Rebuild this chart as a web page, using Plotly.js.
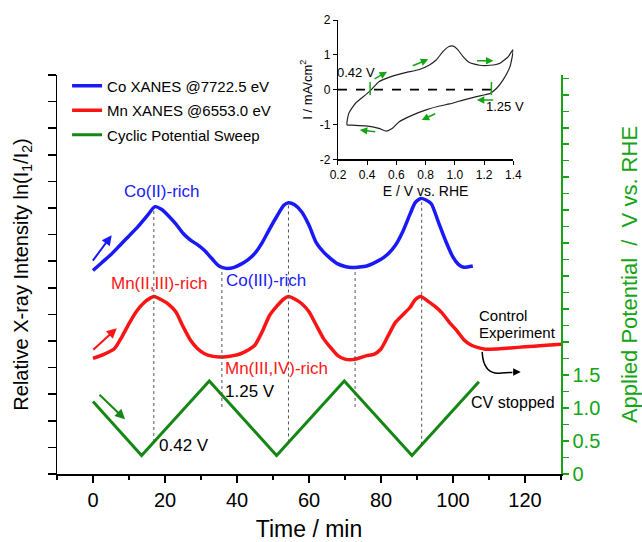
<!DOCTYPE html>
<html>
<head>
<meta charset="utf-8">
<script src="https://cdn.plot.ly/plotly-3.0.1.min.js"></script>
<style>html,body{margin:0;padding:0;background:#fff;}</style>
</head>
<body>
<div id="chart" style="width:642px;height:542px;"></div>
<script>
// ---- Data ----
const coTime = [0, 2.5, 5, 7.5, 10, 12.5, 15, 17.2, 19, 21, 23, 25, 27, 29, 31, 33, 35, 37, 39, 41, 43, 45, 47, 49, 51, 53, 54.3, 56, 58, 60, 62, 64, 66, 68, 70, 72, 74, 76, 78, 80, 82, 84, 86, 88, 89.5, 91, 92.5, 94, 96, 98, 100, 101.5, 103, 105.5];
const coSignal = [7.65, 7.95, 8.25, 8.6, 8.95, 9.3, 9.7, 10.05, 9.95, 9.7, 9.4, 9.05, 8.8, 8.62, 8.4, 8.1, 7.82, 7.73, 7.76, 7.88, 8.05, 8.3, 8.7, 9.2, 9.67, 10.1, 10.2, 10.12, 9.85, 9.35, 8.7, 8.35, 8.1, 7.9, 7.8, 7.76, 7.78, 7.82, 7.93, 8.07, 8.28, 8.6, 9.1, 9.75, 10.2, 10.36, 10.3, 10.15, 9.45, 8.75, 8.15, 7.88, 7.77, 7.82];

const mnTime = [0, 3, 6, 8, 10, 12, 14, 16, 17, 19, 21, 23, 25, 27, 29, 31, 33, 35, 37, 39, 41, 43, 45, 47, 49, 51, 53, 54.3, 56, 58, 60, 62, 64, 66, 68, 70, 72, 74, 76, 78, 80, 82, 84, 86, 88, 89.5, 91, 93, 95, 97, 99, 101, 103, 105, 107, 109, 112, 116, 120, 125, 130];
const mnSignal = [4.35, 4.5, 4.72, 5.15, 5.65, 6.1, 6.42, 6.62, 6.67, 6.55, 6.38, 6.1, 5.55, 5.05, 4.72, 4.52, 4.43, 4.4, 4.41, 4.45, 4.52, 4.65, 4.85, 5.35, 5.95, 6.3, 6.58, 6.67, 6.58, 6.4, 6.1, 5.6, 5.1, 4.75, 4.45, 4.32, 4.3, 4.36, 4.45, 4.5, 4.7, 5.2, 5.7, 5.98, 6.25, 6.55, 6.67, 6.5, 6.3, 6.05, 5.7, 5.4, 5.05, 4.85, 4.75, 4.69, 4.7, 4.74, 4.78, 4.83, 4.88];

const potTime = [0, 13.5, 32.3, 51.0, 69.8, 88.6, 107.2];
const potValue = [1.10, 0.28, 1.41, 0.28, 1.41, 0.28, 1.40];

const cvE = [0.262, 0.274, 0.32, 0.389, 0.43, 0.48, 0.573, 0.665, 0.757, 0.826, 0.872, 0.918, 0.96, 0.99, 1.02, 1.056, 1.10, 1.17, 1.24, 1.309, 1.366, 1.40,
             1.377, 1.33, 1.286, 1.24, 1.148, 1.056, 0.964, 0.895, 0.803, 0.71, 0.619, 0.573, 0.531, 0.48, 0.389, 0.297, 0.262];
const cvI = [-1.01, -0.68, -0.39, -0.15, 0.01, 0.23, 0.39, 0.49, 0.58, 0.71, 0.85, 1.09, 1.24, 1.25, 1.15, 0.95, 0.78, 0.70, 0.70, 0.76, 0.95, 1.16,
             0.66, 0.28, 0.04, -0.11, -0.20, -0.30, -0.41, -0.47, -0.58, -0.73, -0.92, -1.11, -1.19, -1.11, -1.04, -1.02, -1.01];

const timeTicks = [0, 20, 40, 60, 80, 100, 120];
const potTickVals = [];
const potTickText = [];
for (let i = 0; i <= 24; i++) {
  const v = i * 0.25;
  potTickVals.push(v);
  potTickText.push(v === 0 ? '0' : (i <= 6 && i % 2 === 0 ? v.toFixed(1) : ''));
}
const cvTicksE = [0.2, 0.4, 0.6, 0.8, 1.0, 1.2, 1.4];
const cvTicksI = [-2, -1, 0, 1, 2];
const cvTickText = ['-2', '-1', '0', '1', '2'];

const guidePeakTimes = [16.9, 54.3, 91.3];
const guideValleyTimes = [35.8, 72.8];

// ---- helpers ----
function interp(xs, ys, x) {
  for (let i = 0; i < xs.length - 1; i++) {
    if (x >= xs[i] && x <= xs[i + 1]) {
      const f = (x - xs[i]) / (xs[i + 1] - xs[i]);
      return ys[i] + f * (ys[i + 1] - ys[i]);
    }
  }
  return ys[ys.length - 1];
}
const LEFT_MAX = 15, RIGHT_MAX = 6.05;
const toLeft = v => v * LEFT_MAX / RIGHT_MAX;

const BLUE = 'rgb(25,25,250)';
const RED = 'rgb(250,20,20)';
const GREEN = 'rgb(20,135,20)';
const AXGREEN = 'rgb(20,165,20)';
const FONT = 'Arial, "Liberation Sans", Helvetica, sans-serif';

const traces = [
  {x: coTime, y: coSignal, type: 'scatter', mode: 'lines', name: 'Co XANES @7722.5 eV',
   line: {color: BLUE, width: 3.5, shape: 'spline', smoothing: 0.6}, xaxis: 'x', yaxis: 'y', legendgroup: 'a'},
  {x: mnTime, y: mnSignal, type: 'scatter', mode: 'lines', name: 'Mn XANES @6553.0 eV',
   line: {color: RED, width: 3.5, shape: 'spline', smoothing: 0.6}, xaxis: 'x', yaxis: 'y', legendgroup: 'b'},
  {x: potTime, y: potValue, type: 'scatter', mode: 'lines', name: 'Cyclic Potential Sweep',
   line: {color: GREEN, width: 3}, xaxis: 'x', yaxis: 'y2', legendgroup: 'c'},
  {x: cvE, y: cvI, type: 'scatter', mode: 'lines', showlegend: false,
   line: {color: '#222', width: 1.2, shape: 'spline', smoothing: 0.5}, xaxis: 'x2', yaxis: 'y3'}
];

const shapes = [];
guidePeakTimes.forEach(t => {
  shapes.push({type: 'line', xref: 'x', yref: 'y', x0: t, x1: t,
    y0: toLeft(interp(potTime, potValue, t)), y1: interp(coTime, coSignal, t),
    line: {color: '#555', width: 1, dash: 'dot'}});
});
guideValleyTimes.forEach(t => {
  shapes.push({type: 'line', xref: 'x', yref: 'y', x0: t, x1: t,
    y0: 2.52, y1: interp(coTime, coSignal, t),
    line: {color: '#555', width: 1, dash: 'dot'}});
});
// inset zero line and potential markers
shapes.push({type: 'line', xref: 'x2', yref: 'y3', x0: 0.2, x1: 1.26, y0: 0, y1: 0,
  line: {color: '#000', width: 1.8, dash: 'dash'}});
[0.42, 1.25].forEach(e => {
  shapes.push({type: 'line', xref: 'x2', yref: 'y3', x0: e, x1: e, y0: -0.15, y1: 0.22,
    line: {color: AXGREEN, width: 1.5}});
});
// curved "CV stopped" arrow
shapes.push({type: 'path', xref: 'x', yref: 'y',
  path: 'M 108.1,4.59 Q 108.4,3.7 113.5,3.8 L 116.5,3.82',
  line: {color: '#000', width: 1.5}});

function txt(text, x, y, color, size, opts) {
  return Object.assign({text: text, x: x, y: y, xref: 'x', yref: 'y', showarrow: false,
    font: {color: color, size: size, family: FONT}}, opts || {});
}
function arrow(x, y, ax, ay, color, width, xref, yref) {
  return {text: '', x: x, y: y, ax: ax, ay: ay, xref: xref || 'x', yref: yref || 'y',
    showarrow: true, arrowhead: 2, arrowsize: 1, arrowwidth: width, arrowcolor: color};
}

const annotations = [
  txt('Co(II)-rich', 19.1, 10.62, BLUE, 17),
  txt('Co(III)-rich', 48.0, 7.29, BLUE, 17),
  txt('Mn(II,III)-rich', 18.3, 7.17, RED, 17),
  txt('Mn(III,IV)-rich', 51.0, 3.98, RED, 17),
  txt('1.25 V', 43.5, 3.09, '#000', 17),
  txt('0.42 V', 25.4, 1.09, '#000', 17),
  txt('Control', 106.6, 5.94, '#000', 15, {xanchor: 'left'}),
  txt('Experiment', 106.6, 5.31, '#000', 15, {xanchor: 'left'}),
  txt('CV stopped', 128.9, 2.67, '#000', 16, {xanchor: 'right'}),
  arrow(5.2, 8.98, -20, 27, BLUE, 2),
  arrow(6.6, 5.48, -25, 23, RED, 2),
  arrow(8.9, 0.83, -27, -26, GREEN, 2, 'x', 'y2'),
  arrow(118.8, 3.83, -9, 0, '#000', 1.5),
  // inset
  {text: '0.42 V', x: 0.322, y: 0.49, xref: 'x2', yref: 'y3', showarrow: false, font: {size: 13, color: '#000', family: FONT}},
  {text: '1.25 V', x: 1.344, y: -0.49, xref: 'x2', yref: 'y3', showarrow: false, font: {size: 13, color: '#000', family: FONT}},
  arrow(0.536, 0.515, -14, 8, AXGREEN, 1.5, 'x2', 'y3'),
  arrow(0.818, 0.871, -17, 7, AXGREEN, 1.5, 'x2', 'y3'),
  arrow(1.264, 0.831, -18, 0, AXGREEN, 1.5, 'x2', 'y3'),
  arrow(1.150, -0.298, 18, 0, AXGREEN, 1.5, 'x2', 'y3'),
  arrow(0.773, -0.872, 15, -7, AXGREEN, 1.5, 'x2', 'y3'),
  arrow(0.349, -1.159, 17, 2, AXGREEN, 1.5, 'x2', 'y3')
];

const layout = {
  width: 642, height: 542,
  margin: {l: 57, r: 81, t: 15, b: 68},
  paper_bgcolor: '#fff', plot_bgcolor: 'rgba(0,0,0,0)',
  font: {family: FONT, color: '#000'},
  showlegend: true,
  legend: {x: 0.02, y: 0.881, xanchor: 'left', yanchor: 'top', bgcolor: 'rgba(0,0,0,0)',
    font: {size: 15, family: FONT}, traceorder: 'grouped', tracegroupgap: 2},
  xaxis: {domain: [0, 1], anchor: 'y', range: [-10, 130], tickmode: 'array', tickvals: timeTicks,
    ticks: 'outside', ticklen: 7, tickwidth: 1.5, tickcolor: '#000',
    minor: {tickmode: 'linear', tick0: 10, dtick: 20, ticks: 'outside', ticklen: 4, tickwidth: 1.5, tickcolor: '#000'},
    showline: true, linewidth: 1.5, linecolor: '#000', showgrid: false, zeroline: false,
    tickfont: {size: 20}, title: {text: 'Time / min', font: {size: 23}, standoff: 16}, automargin: false},
  yaxis: {domain: [0, 0.8693], anchor: 'x', range: [0, LEFT_MAX], tickmode: 'linear', tick0: 0, dtick: 1,
    ticks: 'outside', ticklen: 8, tickwidth: 1.5, tickcolor: '#000', showticklabels: false,
    showline: true, linewidth: 1.5, linecolor: '#000', showgrid: false, zeroline: false,
    title: {text: 'Relative X-ray Intensity ln(I<sub>1</sub>/I<sub>2</sub>)', font: {size: 20}, standoff: 13}, automargin: false},
  yaxis2: {overlaying: 'y', side: 'right', anchor: 'x', range: [0, RIGHT_MAX], tickmode: 'array',
    tickvals: potTickVals, ticktext: potTickText,
    ticks: 'outside', ticklen: 6, tickwidth: 1.5, tickcolor: AXGREEN,
    showline: true, linewidth: 1.5, linecolor: AXGREEN, showgrid: false, zeroline: false,
    tickfont: {size: 20, color: AXGREEN},
    title: {text: 'Applied Potential\u00a0 /\u00a0 V vs. RHE', font: {size: 22, color: AXGREEN}, standoff: 22}, automargin: false},
  xaxis2: {domain: [0.5575, 0.9054], anchor: 'y3', range: [0.2, 1.4], tickmode: 'array', tickvals: cvTicksE,
    ticktext: cvTicksE.map(v => v.toFixed(1)),
    ticks: 'outside', ticklen: 4, tickwidth: 1, tickcolor: '#000', showline: true, linewidth: 1.2, linecolor: '#000',
    showgrid: false, zeroline: false, tickfont: {size: 12},
    title: {text: 'E / V vs. RHE', font: {size: 14}, standoff: 5}, automargin: false},
  yaxis3: {domain: [0.6856, 0.9891], anchor: 'x2', range: [-2, 2], tickmode: 'array', tickvals: cvTicksI, ticktext: cvTickText,
    ticks: 'outside', ticklen: 4, tickwidth: 1, tickcolor: '#000', showline: true, linewidth: 1.2, linecolor: '#000',
    showgrid: false, zeroline: false, tickfont: {size: 12},
    title: {text: 'I / mA/cm<sup>2</sup>', font: {size: 13}, standoff: 4}, automargin: false},
  shapes: shapes,
  annotations: annotations
};

Plotly.newPlot('chart', traces, layout, {displayModeBar: false, staticPlot: true});
</script>
</body>
</html>
